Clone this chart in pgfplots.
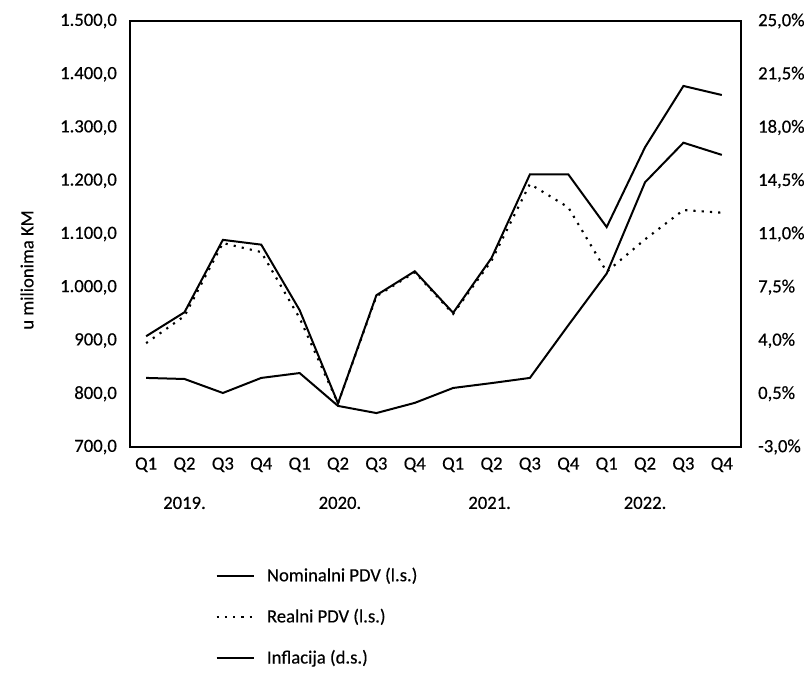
\documentclass[border=0pt]{standalone}
\usepackage{pgfplots}
\pgfplotsset{compat=1.18}
\usepackage{fontspec}
\setmainfont{Carlito}[UprightFeatures={FakeBold=0.35}]
\newcommand{\chartfont}{\fontsize{14pt}{16pt}\selectfont}

% series
\pgfplotstableread{
x nominal real
0 908 895
1 953 946
2 1089 1083
3 1080 1066
4 957 942
5 782 782
6 985 983
7 1030 1028
8 952 950
9 1055 1050
10 1212 1194
11 1212 1150
12 1113 1029
13 1263 1090
14 1378 1145
15 1361 1140
}\pdv
\pgfplotstableread{
x infl
0 1.54
1 1.47
2 0.55
3 1.54
4 1.86
5 -0.3
6 -0.77
7 -0.1
8 0.88
9 1.2
10 1.54
11 5.0
12 8.4
13 14.4
14 17.0
15 16.2
}\infl

\tikzset{
  nomline/.style={black, line width=1.5pt},
  realline/.style={black, line width=1.6pt, dash pattern=on 1.6pt off 4.6pt},
  infline/.style={black, line width=1.5pt},
}

\begin{document}
\chartfont
\begin{tikzpicture}
\path[use as bounding box] (-97.5pt,-169.5pt) rectangle (510pt,335.25pt);
\pgfplotsset{
  every axis/.append style={
    at={(0pt,0pt)}, anchor=south west,
    scale only axis, width=458.25pt, height=319.5pt,
    xmin=-0.42, xmax=15.5,
    major tick length=0pt,
    tick label style={font=\chartfont},
    axis line style={line width=1pt},
  },
}
\begin{axis}[
  ymin=700, ymax=1500,
  ytick={700,800,...,1500},
  yticklabels={{700,0},{800,0},{900,0},{1.000,0},{1.100,0},{1.200,0},{1.300,0},{1.400,0},{1.500,0}},
  xtick={0,...,15},
  xticklabels={Q1,Q2,Q3,Q4,Q1,Q2,Q3,Q4,Q1,Q2,Q3,Q4,Q1,Q2,Q3,Q4},
  yticklabel style={xshift=-5pt},
  xticklabel style={yshift=-3pt},
  clip=false,
]
\addplot[nomline] table[x=x, y=nominal] {\pdv};
\addplot[realline] table[x=x, y=real] {\pdv};
\node[font=\chartfont] at (axis cs:1,595) {2019.};
\node[font=\chartfont] at (axis cs:5.05,595) {2020.};
\node[font=\chartfont] at (axis cs:8.95,595) {2021.};
\node[font=\chartfont] at (axis cs:13,595) {2022.};
\end{axis}
\begin{axis}[
  ymin=-3, ymax=25,
  axis y line*=right, axis x line=none,
  ytick={-3,0.5,4,7.5,11,14.5,18,21.5,25},
  yticklabels={{-3,0\%},{0,5\%},{4,0\%},{7,5\%},{11,0\%},{14,5\%},{18,0\%},{21,5\%},{25,0\%}},
  yticklabel style={xshift=8pt},
  legend style={draw=none, fill=none, font=\chartfont,
    at={(0.133,-0.27)}, anchor=north west, row sep=14.5pt,
    /tikz/every odd column/.append style={column sep=7pt}},
  legend cell align=left,
  legend image code/.code={\draw[#1] (0pt,0pt) -- (28pt,0pt);},
]
\addlegendimage{nomline, line width=1pt}
\addlegendentry{Nominalni PDV (l.s.)}
\addlegendimage{realline}
\addlegendentry{Realni PDV (l.s.)}
\addplot[infline] table[x=x, y=infl] {\infl};
\addlegendentry{Inflacija (d.s.)}
\end{axis}
\node[rotate=90, font=\chartfont] at (-77.25pt,132.75pt) {u milionima KM};
\end{tikzpicture}
\end{document}
